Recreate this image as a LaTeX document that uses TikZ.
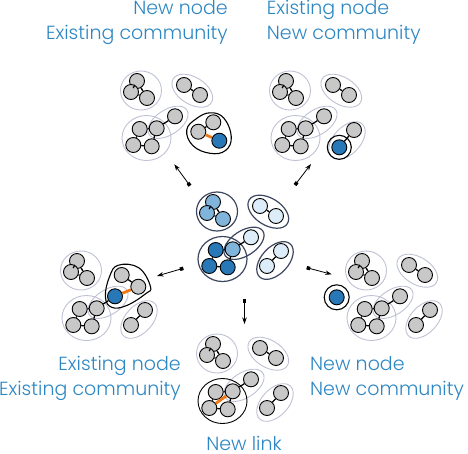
\documentclass[tikz,border=0pt]{standalone}
\usepackage{fontspec}
\setmainfont{Poppins}[UprightFont=* Light]
\usetikzlibrary{shapes.geometric, arrows.meta}

\definecolor{nodegrey}{RGB}{200,200,200}
\definecolor{commgrey}{RGB}{190,193,212}
\definecolor{commdark}{RGB}{60,70,95}
\definecolor{dkblue}{RGB}{40,120,184}
\definecolor{mdblue}{RGB}{128,180,218}
\definecolor{ltblue}{RGB}{220,236,248}
\definecolor{linkorange}{RGB}{240,120,20}
\definecolor{labelblue}{RGB}{45,135,195}

\begin{document}
\begin{tikzpicture}[
    % work in pixels, y pointing down
    x=1pt, y=-1pt,
    % Define styles for the elements
    vtx/.style={circle, draw=black, line width=0.9pt, fill=nodegrey, minimum size=15pt, inner sep=0pt},
    comm/.style={ellipse, draw=commgrey, line width=0.9pt, inner sep=0pt},
    core/.style={ellipse, draw=commdark, line width=1.2pt, inner sep=0pt},
    ring/.style={circle, draw=black, line width=1.1pt, inner sep=0pt},
    tie/.style={draw=black, line width=1.3pt},
    newtie/.style={draw=linkorange, line width=2.8pt},
    fresh/.style={draw=black, line width=1.1pt},
    flow/.style={{Square[length=3.5pt,width=3.5pt]}-{Stealth[length=6.5pt,width=4.5pt]}, line width=0.8pt},
    caption/.style={font=\fontsize{19}{24.5}\selectfont, text=labelblue, inner sep=0pt}
  ]
  \useasboundingbox (0,0) rectangle (468,453);

  % --- Step 1: the current network in the middle ---
  \begin{scope}[shift={(240,240)}]
    \node[core, minimum width=41pt, minimum height=39pt] (cA) at (-23,-28.5) {};
    \node[core, minimum width=45pt, minimum height=27pt, rotate=-32] (cB) at (28.3,-28.3) {};
    \node[core, minimum width=49pt, minimum height=45pt] (cC) at (-17.5,19) {};
    \node[core, minimum width=45pt, minimum height=25pt, rotate=33] (cD) at (4,3.3) {};
    \node[core, minimum width=45pt, minimum height=27pt, rotate=47] (cE) at (35,20.5) {};

    \node[vtx, fill=mdblue] (ca1) at (-27,-38) {};
    \node[vtx, fill=mdblue] (ca2) at (-33,-27) {};
    \node[vtx, fill=mdblue] (ca3) at (-17,-21) {};
    \node[vtx, fill=ltblue] (cb1) at (20,-34) {};
    \node[vtx, fill=ltblue] (cb2) at (36,-24) {};
    \node[vtx, fill=dkblue] (cc1) at (-24.3,10) {};
    \node[vtx, fill=mdblue] (cc2) at (-7.3,9.3) {};
    \node[vtx, fill=dkblue] (cc3) at (-30.7,26) {};
    \node[vtx, fill=dkblue] (cc4) at (-12.3,27.3) {};
    \node[vtx, fill=ltblue] (cc5) at (11,-2.7) {};
    \node[vtx, fill=ltblue] (ce1) at (41,11) {};
    \node[vtx, fill=ltblue] (ce2) at (27,26) {};

    \draw[tie] (ca1) -- (ca2) (ca1) -- (ca3) (ca2) -- (ca3);
    \draw[tie] (cb1) -- (cb2);
    \draw[tie] (cc1) -- (cc2) (cc1) -- (cc3) (cc3) -- (cc4) (cc2) -- (cc4) (cc2) -- (cc5);
    \draw[tie] (ce1) -- (ce2);
  \end{scope}

  % --- Step 2: the part that every outcome shares ---
  \foreach \p/\sx/\sy/\ccol/\fcol in {tl/164/119/commgrey/nodegrey, tr/313/119/commgrey/nodegrey,
      l/104/299/commgrey/dkblue, r/389/299/commgrey/nodegrey, b/240/382/black/nodegrey}{
    \begin{scope}[shift={(\sx,\sy)}]
      \node[comm, minimum width=41pt, minimum height=39pt] (\p A) at (-23,-28.5) {};
      \node[comm, minimum width=45pt, minimum height=25pt, rotate=33] (\p D) at (4,3.3) {};
      \node[comm, draw=\ccol, minimum width=49pt, minimum height=45pt] (\p C) at (-17.5,19) {};

      \node[vtx] (\p a1) at (-27,-38) {};
      \node[vtx] (\p a2) at (-33,-27) {};
      \node[vtx] (\p a3) at (-17,-21) {};
      \node[vtx] (\p c1) at (-24.3,10) {};
      \node[vtx] (\p c2) at (-7.3,9.3) {};
      \node[vtx] (\p c3) at (-30.7,26) {};
      \node[vtx] (\p c4) at (-12.3,27.3) {};
      \node[vtx, fill=\fcol] (\p c5) at (11,-2.7) {};

      \draw[tie] (\p a1) -- (\p a2) (\p a1) -- (\p a3) (\p a2) -- (\p a3);
      \draw[tie] (\p c1) -- (\p c2) (\p c1) -- (\p c3) (\p c3) -- (\p c4) (\p c2) -- (\p c4) (\p c2) -- (\p c5);
    \end{scope}
  }

  % the pair at the top right, where it is left alone
  \foreach \p/\sx/\sy in {tl/164/119, tr/313/119, r/389/299, b/240/382}{
    \begin{scope}[shift={(\sx,\sy)}]
      \node[comm, minimum width=45pt, minimum height=27pt, rotate=-32] (\p B) at (28.3,-28.3) {};
      \node[vtx] (\p b1) at (20,-34) {};
      \node[vtx] (\p b2) at (36,-24) {};
      \draw[tie] (\p b1) -- (\p b2);
    \end{scope}
  }

  % the pair at the bottom right, where it is left alone
  \foreach \p/\sx/\sy in {l/104/299, r/389/299, b/240/382}{
    \begin{scope}[shift={(\sx,\sy)}]
      \node[comm, minimum width=45pt, minimum height=27pt, rotate=47] (\p E) at (35,20.5) {};
      \node[vtx] (\p e1) at (41,11) {};
      \node[vtx] (\p e2) at (27,26) {};
      \draw[tie] (\p e1) -- (\p e2);
    \end{scope}
  }

  % --- Step 3: what changes in each outcome ---
  % new node, existing community
  \begin{scope}[shift={(164,119)}]
    \draw[fresh] plot[smooth cycle, tension=0.7] coordinates
      {(46,-6.2) (59.8,-1) (67.3,17.7) (61.5,31.5) (46,34.3) (28.8,26.5) (22.7,11) (32.2,-0.2)};
    \node[vtx] (tle1) at (49.3,3.3) {};
    \node[vtx] (tle2) at (34.3,12.7) {};
    \node[vtx, fill=dkblue] (tlnew) at (55.3,21.7) {};
    \draw[tie] (tle1) -- (tle2);
    \draw[newtie] (tle2) -- (tlnew);
  \end{scope}

  % existing node, new community
  \begin{scope}[shift={(313,119)}]
    \node[comm, minimum width=45pt, minimum height=27pt, rotate=47] (trE) at (34,21.5) {};
    \node[vtx] (tre1) at (41,11) {};
    \node[vtx, fill=dkblue] (tre2) at (26.3,28.3) {};
    \node[ring, minimum size=24pt] (trring) at (tre2) {};
    \draw[tie] (tre1) -- (tre2);
  \end{scope}

  % existing node, existing community
  \begin{scope}[shift={(104,299)}]
    \draw[fresh] plot[smooth cycle, tension=0.7] coordinates
      {(14.3,-33.8) (34.8,-31.2) (46.5,-12.3) (41.5,-5.2) (22.7,6.5) (7.7,8.3) (1.4,-2.3) (5.5,-22.3)};
    \node[vtx] (lb1) at (17.7,-24) {};
    \node[vtx] (lb2) at (34.3,-12.3) {};
    \draw[tie] (lb1) -- (lb2);
    \draw[newtie] (lc5) -- (lb2);
  \end{scope}

  % new node, new community
  \begin{scope}[shift={(389,299)}]
    \node[vtx, fill=dkblue] (rnew) at (-52.3,-1.7) {};
    \node[ring, minimum size=25pt] (rring) at (rnew) {};
  \end{scope}

  % new link
  \draw[newtie] (bc3) -- (bc2);

  % --- Step 4: arrows from the middle ---
  \coordinate (tlfrom) at (190,185.7);
  \coordinate (tlto) at (174.3,164.3);
  \coordinate (trfrom) at (295,185);
  \coordinate (trto) at (311,164);
  \coordinate (lfrom) at (183.3,268.3);
  \coordinate (lto) at (157,276);
  \coordinate (rfrom) at (306.7,267.7);
  \coordinate (rto) at (331.7,274.3);
  \coordinate (bfrom) at (244.5,299);
  \coordinate (bto) at (244.5,324);
  \foreach \p in {tl,tr,l,r,b}
    \draw[flow] (\p from) -- (\p to);

  % --- Step 5: captions ---
  \node[caption, align=right, anchor=north east] (tlcap) at (228,0.5) {New node\\Existing community};
  \node[caption, align=left, anchor=north west] (trcap) at (266.7,0.5) {Existing node\\New community};
  \node[caption, align=right, anchor=north east] (lcap) at (181,356.5) {Existing node\\Existing community};
  \node[caption, align=left, anchor=north west] (rcap) at (310,356.5) {New node\\New community};
  \node[caption, anchor=north] (bcap) at (244,436) {New link};

\end{tikzpicture}
\end{document}
